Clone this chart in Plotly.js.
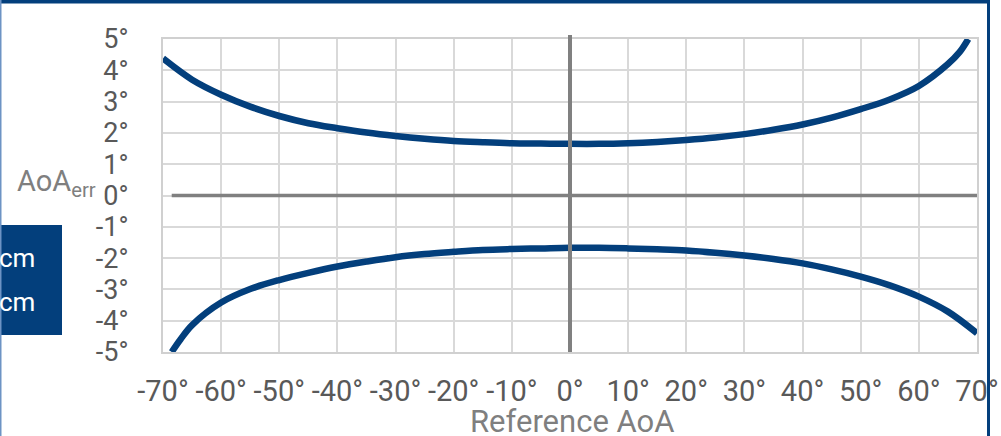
<!DOCTYPE html>
<html>
<head>
<meta charset="utf-8">
<script src="https://cdn.plot.ly/plotly-3.0.1.min.js"></script>
<style>
html,body{margin:0;padding:0;background:#fff;}
#chart{width:1001px;height:436px;}
</style>
</head>
<body>
<div id="chart"></div>
<script>
// Upper error bound (degrees) vs reference AoA (degrees)
const upperAoA = [-70, -65, -60, -55, -50, -45, -40, -35, -30, -25, -20, -15, -10, -5, 0, 5, 10, 15, 20, 25, 30, 35, 40, 45, 50, 55, 60, 65, 67, 68.5];
const upperErr = [4.38, 3.70, 3.22, 2.84, 2.54, 2.31, 2.15, 2.01, 1.90, 1.81, 1.74, 1.70, 1.67, 1.66, 1.65, 1.65, 1.67, 1.71, 1.77, 1.85, 1.96, 2.10, 2.27, 2.49, 2.76, 3.07, 3.50, 4.20, 4.58, 5.0];
// Lower error bound
const lowerAoA = [-68.5, -67, -65, -60, -55, -50, -45, -40, -35, -30, -25, -20, -15, -10, -5, 0, 5, 10, 15, 20, 25, 30, 35, 40, 45, 50, 55, 60, 65, 70];
const lowerErr = [-5.0, -4.60, -4.14, -3.42, -2.99, -2.70, -2.47, -2.27, -2.11, -1.97, -1.87, -1.80, -1.74, -1.71, -1.69, -1.67, -1.67, -1.69, -1.72, -1.76, -1.83, -1.92, -2.03, -2.17, -2.36, -2.59, -2.87, -3.23, -3.71, -4.40];

const xTicks = [-70, -60, -50, -40, -30, -20, -10, 0, 10, 20, 30, 40, 50, 60, 70];
const yTicks = [-5, -4, -3, -2, -1, 0, 1, 2, 3, 4, 5];
const xTitle = "Reference AoA";
const yTitle = "AoA<sub>err</sub>";
const boxLabels = ["cm", "cm"];

const FONT = "Roboto, 'Liberation Sans', sans-serif";
const NAVY = "#033f7c";
const W = 1001, H = 436, L = 163, R = 24, T = 39, B = 84;
const pw = W - L - R, ph = H - T - B;
const px = v => (v - L) / pw;
const py = v => (H - B - v) / ph;

const lineStyle = {color: NAVY, width: 6.5, shape: 'spline', smoothing: 1};
const traces = [
  {x: upperAoA, y: upperErr, mode: 'lines', line: lineStyle, hoverinfo: 'skip', showlegend: false},
  {x: lowerAoA, y: lowerErr, mode: 'lines', line: lineStyle, hoverinfo: 'skip', showlegend: false}
];

const layout = {
  width: W, height: H,
  margin: {l: L, r: R, t: T, b: B, pad: 0},
  paper_bgcolor: '#fff', plot_bgcolor: '#fff',
  showlegend: false,
  font: {family: FONT, color: '#595959'},
  xaxis: {
    range: [-70, 70], tickvals: xTicks, ticktext: xTicks.map(v => v + '°'),
    showgrid: true, gridcolor: '#d9d9d9', gridwidth: 2,
    zeroline: false, showline: true, linecolor: '#d0d0d0', linewidth: 2, mirror: true,
    ticks: '', ticklabelstandoff: 12,
    tickfont: {family: FONT, size: 29, color: '#595959'}
  },
  yaxis: {
    range: [-5, 5], tickvals: yTicks, ticktext: yTicks.map(v => v + '°'),
    showgrid: true, gridcolor: '#d9d9d9', gridwidth: 2,
    zeroline: false, showline: true, linecolor: '#d0d0d0', linewidth: 2, mirror: true,
    ticks: '', ticklabelstandoff: 27,
    tickfont: {family: FONT, size: 27, color: '#595959'}
  },
  shapes: [
    {type: 'line', xref: 'x', yref: 'paper', x0: 0, x1: 0, y0: 0, y1: py(35), line: {color: '#808080', width: 4}, layer: 'above'},
    {type: 'line', xref: 'x', yref: 'y', x0: -68.5, x1: 70, y0: 0, y1: 0, line: {color: '#808080', width: 3.5}, layer: 'above'},
    {type: 'rect', xref: 'paper', yref: 'paper', x0: px(-2), x1: px(62), y0: py(335), y1: py(225), fillcolor: NAVY, line: {width: 0}},
    {type: 'rect', xref: 'paper', yref: 'paper', x0: px(-2), x1: px(990), y0: py(3.5), y1: py(-2), fillcolor: NAVY, line: {width: 0}},
    {type: 'rect', xref: 'paper', yref: 'paper', x0: px(987), x1: px(990), y0: py(440), y1: py(-2), fillcolor: NAVY, line: {width: 0}},
    {type: 'rect', xref: 'paper', yref: 'paper', x0: px(-2), x1: px(1.5), y0: py(440), y1: py(-2), fillcolor: '#6d93c4', line: {width: 0}}
  ],
  annotations: [
    {xref: 'paper', yref: 'paper', x: px(572), y: py(421), xanchor: 'center', yanchor: 'middle', showarrow: false,
     text: xTitle, font: {family: FONT, size: 31, color: '#7f7f7f'}},
    {xref: 'paper', yref: 'paper', x: px(98), y: py(183), xanchor: 'right', yanchor: 'middle', showarrow: false,
     text: yTitle, font: {family: FONT, size: 29, color: '#7f7f7f'}},
    {xref: 'paper', yref: 'paper', x: px(37), y: py(258), xanchor: 'right', yanchor: 'middle', showarrow: false,
     text: boxLabels[0], font: {family: FONT, size: 26, color: '#ffffff'}},
    {xref: 'paper', yref: 'paper', x: px(37), y: py(302), xanchor: 'right', yanchor: 'middle', showarrow: false,
     text: boxLabels[1], font: {family: FONT, size: 26, color: '#ffffff'}}
  ]
};

Plotly.newPlot('chart', traces, layout, {staticPlot: true, displayModeBar: false});
</script>
</body>
</html>
